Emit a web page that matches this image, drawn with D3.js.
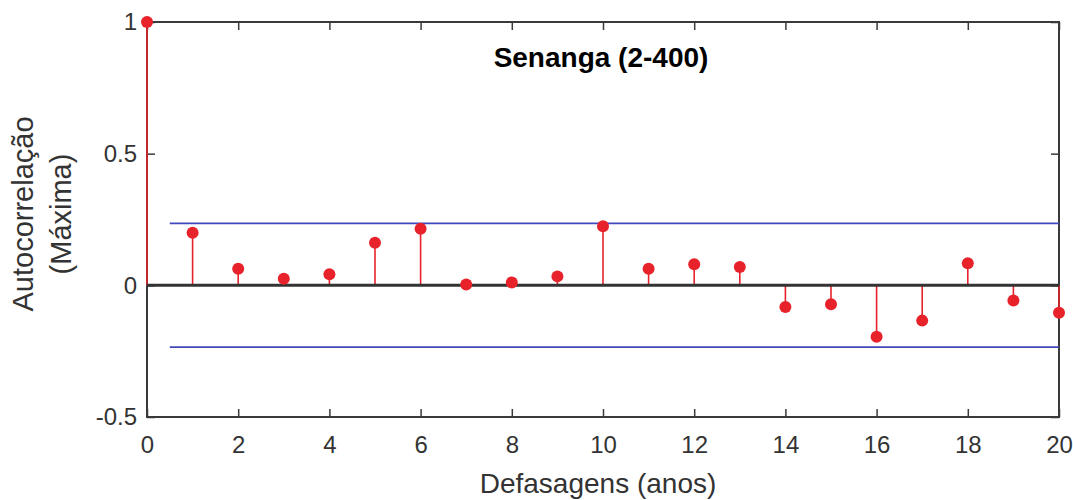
<!DOCTYPE html>
<html>
<head>
<meta charset="utf-8">
<script src="https://cdn.jsdelivr.net/npm/d3@7"></script>
<style>
  body { margin: 0; background: #fff; }
  text { font-family: "Liberation Sans", Arial, sans-serif; fill: #333; }
</style>
</head>
<body>
<div id="chart"></div>
<script>
'use strict'

// data
const lags = d3.range(0, 21)
const acf = [1, 0.20, 0.063, 0.025, 0.042, 0.162, 0.215, 0.003, 0.011, 0.034, 0.224,
  0.063, 0.08, 0.07, -0.082, -0.072, -0.195, -0.134, 0.084, -0.058, -0.104]
const confLimit = 0.235
const confStart = 0.5
const xTicks = [0, 2, 4, 6, 8, 10, 12, 14, 16, 18, 20]
const yTicks = [-0.5, 0, 0.5, 1]
const title = 'Senanga (2-400)'
const xLabel = 'Defasagens (anos)'
const yLabel = ['Autocorrelação', '(Máxima)']

const width = 1073
const height = 500
const margin = { top: 22, right: 14, bottom: 83, left: 147 }
const innerW = width - margin.left - margin.right
const innerH = height - margin.top - margin.bottom

const svg = d3.select('#chart')
  .append('svg')
  .attr('width', width)
  .attr('height', height)

const x = d3.scaleLinear().domain([0, 20]).range([margin.left, margin.left + innerW])
const y = d3.scaleLinear().domain([-0.5, 1]).range([margin.top + innerH, margin.top])

const tickLen = 8
const axisColor = '#3a3a3a'

// ticks on all four sides, pointing inward
const xAxisBottom = d3.axisBottom(x).tickValues(xTicks).tickSize(-tickLen).tickPadding(19)
const xAxisTop = d3.axisTop(x).tickValues(xTicks).tickSize(-tickLen).tickFormat('')
const yAxisLeft = d3.axisLeft(y).tickValues(yTicks).tickSize(-tickLen).tickPadding(10)
  .tickFormat(d => String(d))
const yAxisRight = d3.axisRight(y).tickValues(yTicks).tickSize(-tickLen).tickFormat('')

function styleAxis (g) {
  g.select('.domain').remove()
  g.selectAll('.tick line').attr('stroke', axisColor).attr('stroke-width', 1.5)
  g.selectAll('.tick text')
    .style('font-family', '"Liberation Sans", Arial, sans-serif')
    .style('font-size', '24px')
    .attr('fill', '#333')
}

svg.append('g').attr('transform', `translate(0,${margin.top + innerH})`).call(xAxisBottom).call(styleAxis)
svg.append('g').attr('transform', `translate(0,${margin.top})`).call(xAxisTop).call(styleAxis)
svg.append('g').attr('transform', `translate(${margin.left},0)`).call(yAxisLeft).call(styleAxis)
svg.append('g').attr('transform', `translate(${margin.left + innerW},0)`).call(yAxisRight).call(styleAxis)

// frame
svg.append('rect')
  .attr('x', margin.left)
  .attr('y', margin.top)
  .attr('width', innerW)
  .attr('height', innerH)
  .attr('fill', 'none')
  .attr('stroke', axisColor)
  .attr('stroke-width', 2)

// confidence bounds
svg.selectAll('line.conf')
  .data([confLimit, -confLimit])
  .enter()
  .append('line')
  .attr('class', 'conf')
  .attr('x1', x(confStart))
  .attr('x2', x(20))
  .attr('y1', d => y(d))
  .attr('y2', d => y(d))
  .attr('stroke', '#4248bc')
  .attr('stroke-width', 1.7)

// stems
svg.selectAll('line.stem')
  .data(lags)
  .enter()
  .append('line')
  .attr('class', 'stem')
  .attr('x1', d => x(d))
  .attr('x2', d => x(d))
  .attr('y1', y(0))
  .attr('y2', d => y(acf[d]))
  .attr('stroke', '#e8222a')
  .attr('stroke-width', 1.6)

// zero line
svg.append('line')
  .attr('x1', x(0))
  .attr('x2', x(20))
  .attr('y1', y(0))
  .attr('y2', y(0))
  .attr('stroke', '#333')
  .attr('stroke-width', 3)

// markers
svg.selectAll('circle.pt')
  .data(lags)
  .enter()
  .append('circle')
  .attr('class', 'pt')
  .attr('cx', d => x(d))
  .attr('cy', d => y(acf[d]))
  .attr('r', 6)
  .attr('fill', '#e8222a')

// title
svg.append('text')
  .attr('x', 601)
  .attr('y', 67)
  .attr('text-anchor', 'middle')
  .style('font-size', '28px')
  .style('font-weight', 'bold')
  .style('fill', '#000')
  .text(title)

// x label
svg.append('text')
  .attr('x', 598)
  .attr('y', 493)
  .attr('text-anchor', 'middle')
  .style('font-size', '28px')
  .text(xLabel)

// y label (two lines)
const yl = svg.append('text')
  .attr('transform', `translate(33,214) rotate(-90)`)
  .attr('text-anchor', 'middle')
  .style('font-size', '29px')
yl.selectAll('tspan')
  .data(yLabel)
  .enter()
  .append('tspan')
  .attr('x', 0)
  .attr('dy', (d, i) => i === 0 ? 0 : 38)
  .text(d => d)
</script>
</body>
</html>
